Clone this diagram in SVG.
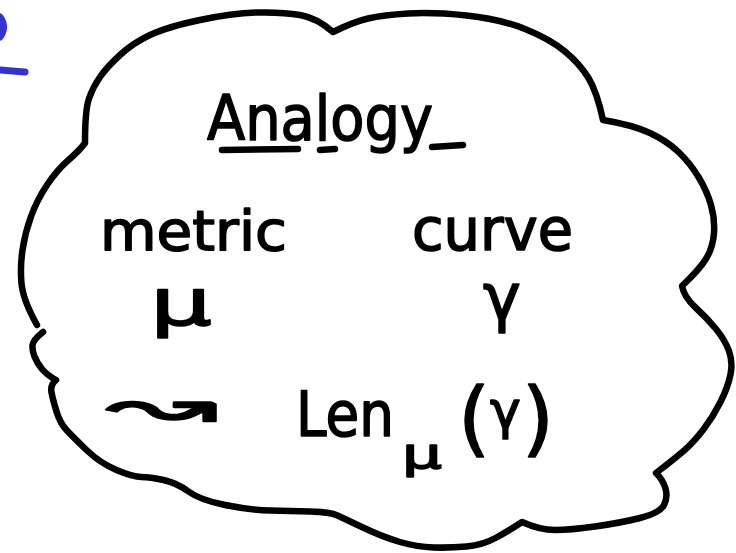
<svg xmlns="http://www.w3.org/2000/svg" width="736" height="553" viewBox="0 0 736 553">
  <style>
    .ink { fill: none; stroke: #000; stroke-width: 6.5; stroke-linecap: round; stroke-linejoin: round; }
    .blue { fill: none; stroke: #3434c8; stroke-width: 7; stroke-linecap: round; stroke-linejoin: round; }
    .hand { font-family: "DejaVu Sans", "Liberation Sans", sans-serif; fill: #000; stroke: #000; stroke-width: 1.6; stroke-linejoin: round; }
  </style>
  <rect width="736" height="553" fill="#fff"/>
  <g id="margin-mark">
    <path class="blue" d="M0,17 Q7,27 0,37"/>
    <path class="blue" d="M0,70 L25,72"/>
  </g>
  <g id="cloud">
    <path class="ink" d="M37,325 Q23,300 21.5,283.5 Q20,267 22.5,250 Q25,233 31,216.5 Q37,200 47,185 Q57,170 68.5,160 Q80,150 85,143
      Q85,110 89,98.5 Q93,87 100,77 Q107,67 120,55 Q133,43 150,35 Q167,27 200,20 Q233,13 258,12.5 Q283,12 300,15 Q317,18 333,32
      Q353,22 368,18.5 Q383,15 408,13.5 Q433,12 466.5,15.5 Q500,19 525,29 Q550,39 565,51.5 Q580,64 588.5,78 Q597,92 603,120
      Q633,125 650,133 Q667,141 678.5,152 Q690,163 698.5,177 Q707,191 711,205 Q715,219 714,233 Q713,247 706.5,258 Q700,269 682,286
      Q684,297 695.5,307.5 Q707,318 716,329 Q725,340 729,351 Q733,362 730.5,374.5 Q728,387 720.5,402 Q713,417 703,430 Q693,443 683,451.5 Q673,460 656,473
      Q663,480 665.5,488.5 Q668,497 664,505 Q660,513 640,518 Q620,523 595,526.5 Q570,530 555,530 Q540,530 522,522
      Q510,530 496.5,537.5 Q483,545 466.5,546.5 Q450,548 433.5,547.5 Q417,547 400,542 Q383,537 364,528 Q345,519 337.5,515.5 Q330,512 310,511.5 Q290,511 270,510.5 Q250,510 225,505 Q200,500 188.5,491.5 Q177,483 163.5,480 Q150,477 141.5,477 Q133,477 116.5,470 Q100,463 86.5,450 Q73,437 66.5,430 Q60,423 56.5,411.5 Q53,400 51.5,392.5 Q50,385 56,380
      Q47,375 42,369 Q37,363 34.5,356.5 Q32,350 32.5,345 Q33,340 43,332"/>
  </g>
  <g id="title">
    <text class="hand" x="207" y="140" font-size="63" textLength="226" lengthAdjust="spacingAndGlyphs">Analogy</text>
    <path class="ink" d="M222,150 L298,149"/>
    <path class="ink" d="M320,150 L335,149"/>
    <path class="ink" d="M432,147 L463,145"/>
  </g>
  <g id="metric">
    <text class="hand" x="100" y="250" font-size="56" textLength="187" lengthAdjust="spacingAndGlyphs">metric</text>
    <text class="hand" x="150" y="325" font-size="64" textLength="62" lengthAdjust="spacingAndGlyphs">μ</text>
  </g>
  <g id="curve">
    <text class="hand" x="412" y="250" font-size="58" textLength="161" lengthAdjust="spacingAndGlyphs">curve</text>
    <text class="hand" x="483" y="320" font-size="64">γ</text>
  </g>
  <g id="length">
    <text class="hand" x="105" y="428" font-size="64" textLength="113" lengthAdjust="spacingAndGlyphs">↝</text>
    <text class="hand" x="296" y="436" font-size="62" textLength="98" lengthAdjust="spacingAndGlyphs">Len</text>
    <text class="hand" x="402" y="468" font-size="42" textLength="40" lengthAdjust="spacingAndGlyphs">μ</text>
    <text class="hand" x="458" y="446" font-size="82">(</text>
    <text class="hand" x="490" y="428" font-size="52">γ</text>
    <text class="hand" x="522" y="446" font-size="82">)</text>
  </g>
  <g id="connectors"/>
</svg>
